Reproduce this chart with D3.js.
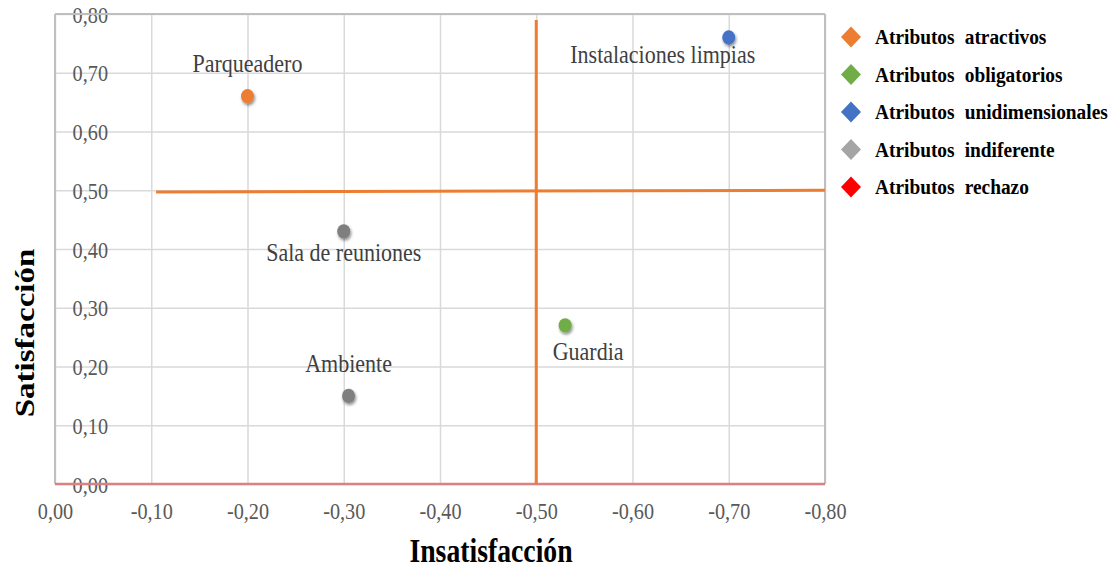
<!DOCTYPE html>
<html>
<head>
<meta charset="utf-8">
<script src="https://cdn.jsdelivr.net/npm/d3@7"></script>
<style>
	body { margin: 0; background: #fff; }
	text { font-family: "Liberation Serif", "Times New Roman", serif; }
</style>
</head>
<body>
<svg id="chart"></svg>
<script>
// points (Kano matrix)
const attributes = ['Parqueadero', 'Instalaciones limpias', 'Sala de reuniones', 'Ambiente', 'Guardia'];
const insatisfaccion = [-0.20, -0.70, -0.30, -0.305, -0.53];
const satisfaccion = [0.66, 0.76, 0.43, 0.15, 0.27];
const attrCategory = ['Atributos atractivos', 'Atributos unidimensionales', 'Atributos indiferente', 'Atributos indiferente', 'Atributos obligatorios'];
const labelPlacement = ['above', 'below-left', 'below', 'above', 'below-right'];

// legend series
const categories = ['Atributos atractivos', 'Atributos obligatorios', 'Atributos unidimensionales', 'Atributos indiferente', 'Atributos rechazo'];
const categoryColors = ['#ED7D31', '#70AD47', '#4472C4', '#A5A5A5', '#FF0000'];
const dotColors = ['#ED7D31', '#70AD47', '#4472C4', '#7F7F7F', '#FF0000'];

// threshold lines
const hLineX = [-0.105, -0.80];
const hLineY = [0.497, 0.50];
const vLineX = [-0.50, -0.50];
const vLineY = [0.79, 0.00];

const xTicks = [0, -0.1, -0.2, -0.3, -0.4, -0.5, -0.6, -0.7, -0.8];
const yTicks = [0, 0.1, 0.2, 0.3, 0.4, 0.5, 0.6, 0.7, 0.8];

function makeChart() {
	let w = 1117;
	let h = 569;
	let sx = 0.88; // the original picture is squeezed sideways

	let locale = d3.formatLocale({decimal: ',', thousands: '.', grouping: [3], currency: ['', ''], minus: '-'});
	let fmt = locale.format('.2f');

	let chart = d3.select('#chart')
		.attr('width', w)
		.attr('height', h);

	chart.append('rect').attr('width', w).attr('height', h).attr('fill', '#fff');

	let defs = chart.append('defs');
	defs.append('filter')
		.attr('id', 'shadow')
		.attr('x', '-100%').attr('y', '-100%').attr('width', '300%').attr('height', '300%')
		.append('feDropShadow')
		.attr('dx', 1).attr('dy', 2)
		.attr('stdDeviation', 1.6)
		.attr('flood-color', '#000')
		.attr('flood-opacity', 0.45);

	let x = d3.scaleLinear().domain([0, -0.8]).range([55, 825]);
	let y = d3.scaleLinear().domain([0, 0.8]).range([484, 14]);

	// grid via axes
	let gx = chart.append('g')
		.attr('transform', 'translate(0,484)')
		.call(d3.axisBottom(x).tickValues(xTicks).tickSize(-470).tickFormat(fmt));
	gx.select('.domain').remove();
	gx.selectAll('line').attr('stroke', '#d9d9d9').attr('stroke-width', 1.5);
	gx.selectAll('text')
		.attr('fill', '#595959')
		.attr('font-size', 23)
		.attr('y', 0).attr('dy', 0)
		.attr('transform', `translate(0,35) scale(${sx},1)`);

	let gy = chart.append('g')
		.attr('transform', 'translate(55,0)')
		.call(d3.axisLeft(y).tickValues(yTicks).tickSize(-770).tickFormat(fmt));
	gy.select('.domain').remove();
	gy.selectAll('line').attr('stroke', '#d9d9d9').attr('stroke-width', 1.5);
	gy.selectAll('text')
		.attr('fill', '#595959')
		.attr('font-size', 23)
		.attr('text-anchor', 'end')
		.attr('x', 0).attr('dy', '0.35em')
		.attr('transform', `translate(53,0) scale(${sx},1)`);

	// plot frame
	chart.append('line')
		.attr('x1', 55).attr('x2', 825).attr('y1', 14).attr('y2', 14)
		.attr('stroke', '#bfbfbf').attr('stroke-width', 2);
	chart.append('line')
		.attr('x1', 55).attr('x2', 55).attr('y1', 14).attr('y2', 484)
		.attr('stroke', '#bfbfbf').attr('stroke-width', 2);
	chart.append('line')
		.attr('x1', 825).attr('x2', 825).attr('y1', 14).attr('y2', 484)
		.attr('stroke', '#bfbfbf').attr('stroke-width', 2);
	chart.append('line')
		.attr('x1', x(0)).attr('x2', x(-0.8)).attr('y1', y(0)).attr('y2', y(0))
		.attr('stroke', '#d98282').attr('stroke-width', 2.5);

	// threshold lines
	let line = d3.line().x(d => x(d[0])).y(d => y(d[1]));
	chart.append('path')
		.datum(d3.zip(hLineX, hLineY))
		.attr('d', line)
		.attr('fill', 'none')
		.attr('stroke', '#ED7D31')
		.attr('stroke-width', 3);
	chart.append('path')
		.datum(d3.zip(vLineX, vLineY))
		.attr('d', line)
		.attr('fill', 'none')
		.attr('stroke', '#ED7D31')
		.attr('stroke-width', 3);

	// points
	let points = attributes.map((name, i) => ({
		name: name,
		x: insatisfaccion[i],
		y: satisfaccion[i],
		cat: attrCategory[i],
		pos: labelPlacement[i]
	}));

	let color = d3.scaleOrdinal().domain(categories).range(dotColors);

	chart.selectAll('.dot')
		.data(points)
		.enter()
		.append('ellipse')
		.classed('dot', true)
		.attr('cx', d => x(d.x))
		.attr('cy', d => y(d.y))
		.attr('rx', 6.5)
		.attr('ry', 7.2)
		.attr('fill', d => color(d.cat))
		.attr('filter', 'url(#shadow)');

	let offsets = {
		'above': [0, -24],
		'below': [0, 30],
		'below-left': [-66, 25],
		'below-right': [23, 35]
	};

	chart.selectAll('.node-label')
		.data(points)
		.enter()
		.append('text')
		.classed('node-label', true)
		.attr('transform', d => `translate(${x(d.x) + offsets[d.pos][0]},${y(d.y) + offsets[d.pos][1]}) scale(${sx},1)`)
		.attr('font-size', 25)
		.attr('fill', '#404040')
		.style('text-anchor', 'middle')
		.text(d => d.name);

	// legend
	let legend = chart.selectAll('.legend')
		.data(categories)
		.enter()
		.append('g')
		.classed('legend', true)
		.attr('transform', (d, i) => `translate(851,${37 + i * 37.5})`);

	legend.append('path')
		.attr('d', 'M0,-10.5L10,0L0,10.5L-10,0Z')
		.attr('fill', (d, i) => categoryColors[i]);

	legend.append('text')
		.attr('transform', `translate(24,7) scale(${sx},1)`)
		.attr('font-size', 22)
		.attr('font-weight', 'bold')
		.attr('word-spacing', 6)
		.attr('fill', '#000')
		.text(d => d);

	// axis titles
	chart.append('text')
		.attr('transform', `translate(491,562) scale(0.84,1)`)
		.attr('font-size', 33)
		.attr('font-weight', 'bold')
		.style('text-anchor', 'middle')
		.text('Insatisfacción');

	chart.append('text')
		.attr('transform', `translate(34,333) rotate(-90) scale(1,0.84)`)
		.attr('font-size', 33)
		.attr('font-weight', 'bold')
		.style('text-anchor', 'middle')
		.text('Satisfacción');
}

window.onload = function () {
	makeChart();
}
</script>
</body>
</html>
